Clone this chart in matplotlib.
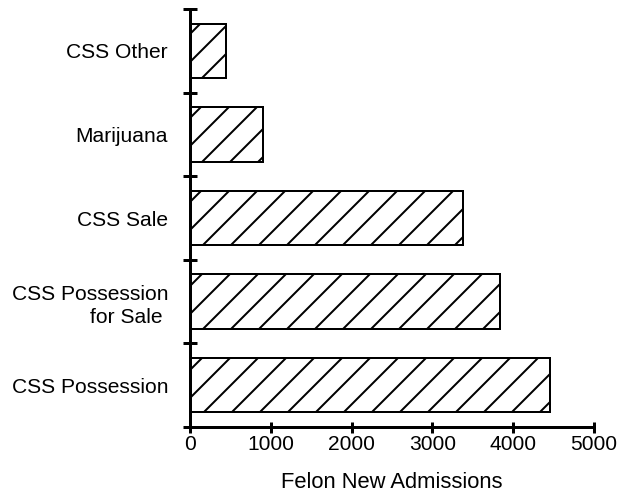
import matplotlib
matplotlib.use("Agg")
import matplotlib.pyplot as plt
import numpy as np

# felon new admissions by drug offense
categories = ["CSS Possession", "CSS Possession\nfor Sale ", "CSS Sale", "Marijuana", "CSS Other"]
admissions = [4460, 3840, 3380, 900, 440]
x_ticks = [0, 1000, 2000, 3000, 4000, 5000]

DPI = 168
px = 72.0 / DPI  # points per pixel

plt.rcParams['font.family'] = ['Liberation Sans', 'DejaVu Sans']
plt.rcParams['hatch.linewidth'] = 2.0 * px
plt.rcParams['hatch.color'] = 'black'

fig = plt.figure(figsize=(626 / DPI, 491 / DPI), dpi=DPI)
ax = fig.add_axes([190 / 626, 1 - 427 / 491, (594 - 190) / 626, (427 - 9) / 491])

y = np.arange(len(categories))
ax.barh(y, admissions, height=0.65, color='white', edgecolor='black',
        linewidth=2.0 * px, hatch='//')

ax.set_xlim(0, 5000)
ax.set_ylim(-0.5, len(categories) - 0.5)

for side in ['top', 'right']:
    ax.spines[side].set_visible(False)
for side in ['left', 'bottom']:
    ax.spines[side].set_linewidth(3 * px)

fs = 21 * px
ax.set_xticks(x_ticks)
ax.set_xticklabels([str(v) for v in x_ticks], fontsize=fs)
ax.tick_params(axis='x', direction='inout', length=11 * px, width=3 * px, pad=3 * px)

# labels at bar centres, tick marks between bars
ax.set_yticks(y)
ax.set_yticklabels(categories, fontsize=fs, multialignment='right', linespacing=1.3)
ax.tick_params(axis='y', which='major', length=0, pad=22 * px)
ax.set_yticks(np.arange(-0.5, len(categories)), minor=True)
ax.tick_params(axis='y', which='minor', direction='inout', length=14 * px, width=3 * px)

ax.set_xlabel("Felon New Admissions", fontsize=22 * px, labelpad=17 * px)

fig.savefig("out.png", dpi=DPI)
